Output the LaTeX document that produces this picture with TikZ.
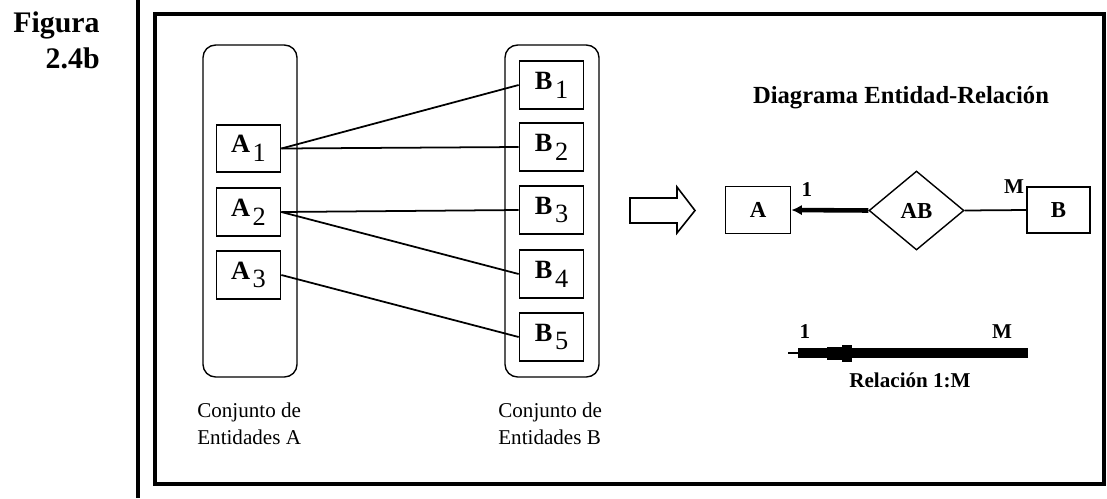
\documentclass[tikz,border=0pt]{standalone}
\usepackage{fontspec}
\setmainfont{Liberation Serif}
\usetikzlibrary{shapes.geometric,arrows.meta}

\tikzset{
  setbox/.style={draw, line width=0.8pt, rounded corners=0.25cm, minimum width=1.88cm, minimum height=6.64cm},
  elem/.style={draw, line width=1pt, minimum width=1.28cm, minimum height=0.95cm, inner sep=0pt},
  link/.style={line width=1pt},
  ent/.style={draw, line width=1pt, minimum width=1.3cm, minimum height=0.94cm, inner sep=0pt, font=\fontsize{13}{15}\selectfont\bfseries},
  rel/.style={draw, diamond, line width=0.8pt, minimum width=1.9cm, minimum height=1.58cm, inner sep=0pt, font=\fontsize{13}{15}\selectfont\bfseries},
  card/.style={inner sep=0pt, font=\fontsize{12}{14}\selectfont\bfseries},
  setlabel/.style={anchor=north west, align=left, inner sep=0pt, font=\fontsize{12}{15}\selectfont}
}
\newcommand{\elt}[2]{\raisebox{1.5pt}{\fontsize{15}{17}\selectfont\textbf{#1}}\kern1.5pt\raisebox{-3.5pt}{\fontsize{15}{17}\selectfont #2}}

\begin{document}
\begin{tikzpicture}[x=0.02cm, y=-0.02cm]
    \useasboundingbox (0,0) rectangle (1107,498);
    % caption and frame
    \node[anchor=base east, inner sep=0pt, font=\fontsize{17}{20}\selectfont\bfseries] (fig1) at (100,32) {Figura};
    \node[anchor=base east, inner sep=0pt, font=\fontsize{17}{20}\selectfont\bfseries] (fig2) at (100,68) {2.4b};
    \draw[line width=2.3pt] (138,0) -- (138,498);
    \draw[line width=2.8pt] (155,14) rectangle (1104,484);

    % entity sets
    \node[setbox] (setA) at (250,211) {};
    \node[setbox] (setB) at (552,211) {};
    \begin{scope}[every node/.style={elem}]
        \node (A1) at (248.5,148.5) {\elt{A}{1}};
        \node (A2) at (248.5,212) {\elt{A}{2}};
        \node (A3) at (248.5,275) {\elt{A}{3}};
        \node (B1) at (551.5,85) {\elt{B}{1}};
        \node (B2) at (551.5,147) {\elt{B}{2}};
        \node (B3) at (551.5,210) {\elt{B}{3}};
        \node (B4) at (551.5,274) {\elt{B}{4}};
        \node (B5) at (551.5,337) {\elt{B}{5}};
    \end{scope}
    \draw[link] (A1.east) -- (B1.west);
    \draw[link] (A1.east) -- (B2.west);
    \draw[link] (A2.east) -- (B3.west);
    \draw[link] (A2.east) -- (B4.west);
    \draw[link] (A3.east) -- (B5.west);
    \node[setlabel] (labA) at (197,403) {Conjunto de\\Entidades A};
    \node[setlabel] (labB) at (498,403) {Conjunto de\\Entidades B};

    % hollow arrow
    \draw[line width=0.9pt] (630,198) -- (677,198) -- (677,187) -- (695,210.5) -- (677,233) -- (677,223) -- (630,223) -- cycle;

    % E-R diagram
    \node[inner sep=0pt, font=\fontsize{14}{16}\selectfont\bfseries] (title) at (901,98) {Diagrama Entidad-Relación};
    \node[ent] (eA) at (758,210) {A};
    \node[rel] (eAB) at (916.5,210.5) {AB};
    \node[ent, minimum width=1.26cm, minimum height=0.92cm] (eB) at (1058.5,210) {B};
    \draw[line width=2.6pt, -{Latex[length=6pt,width=6pt]}] (eAB.west) -- (eA.east);
    \draw[link] (eAB.east) -- (eB.west);
    \node[card] (c1) at (807,190) {1};
    \node[card] (cM) at (1014,187) {M};

    % 1:M legend
    \coordinate (r1) at (788,353);
    \coordinate (rM) at (1028,353);
    \node[card] (l1) at (805,332) {1};
    \node[card] (lM) at (1002,332) {M};
    \draw[line width=1.2pt] (r1) -- ++(12,0);
    \draw[line width=5.7pt] (rM) -- ([xshift=0.2cm]r1);
    \fill (827,346.5) rectangle (842,359.5);
    \fill (842,344.5) rectangle (852,361.5);
    \node[card, font=\fontsize{12}{14}\selectfont\bfseries] (lrel) at (910,380) {Relación 1:M};
\end{tikzpicture}
\end{document}
